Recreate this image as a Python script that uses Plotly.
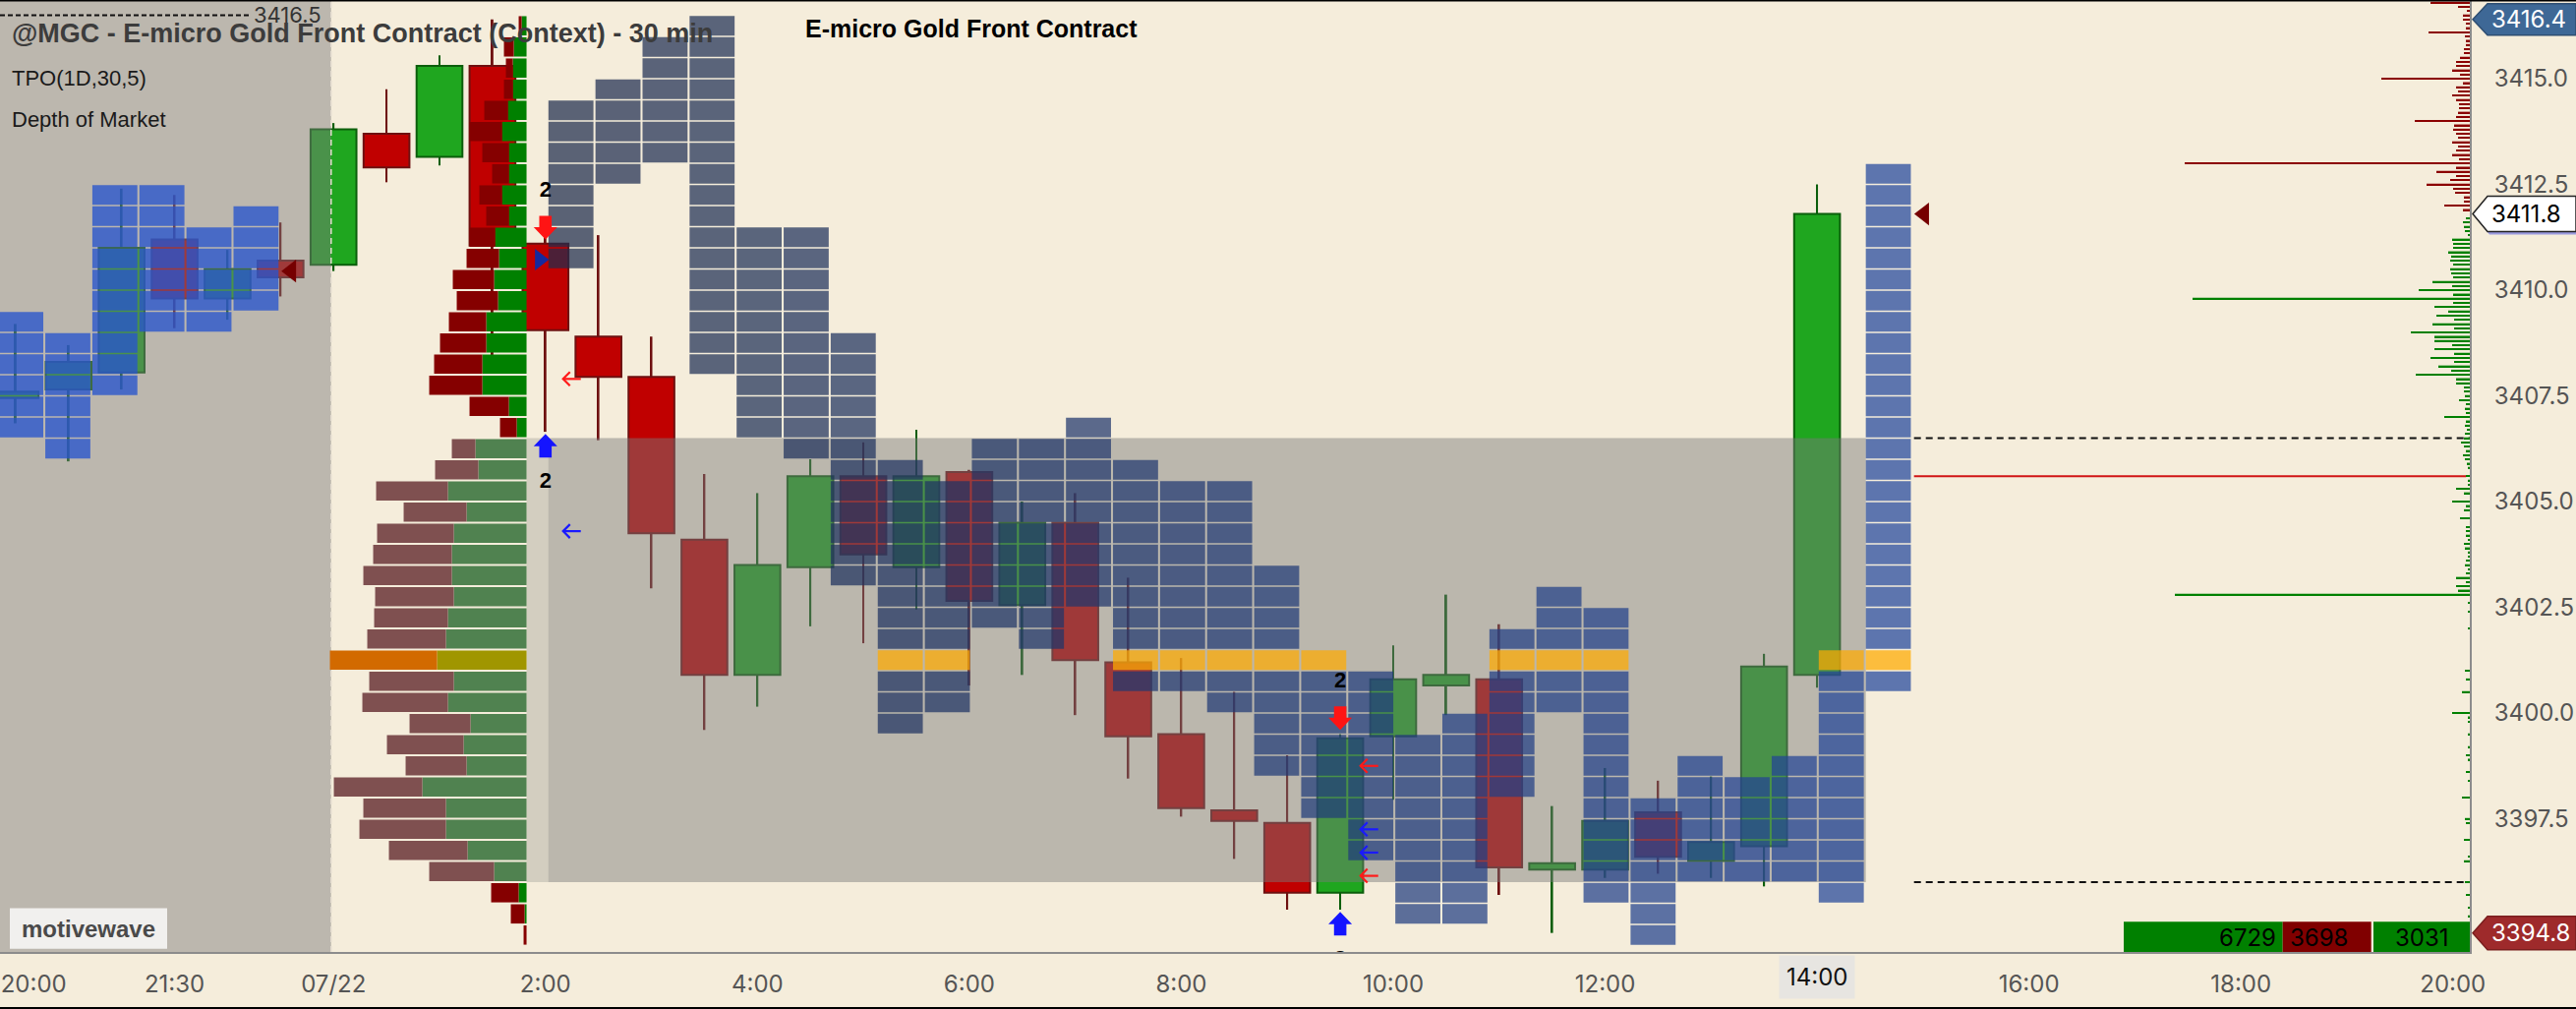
import plotly.graph_objects as go

# 30 min bars, bar 0 = the 2:00 bar of 07/22 (bars -10..-5 belong to the previous session)
bar_no = list(range(-10, 25))
opens = [3407.45, 3407.65, 3408.05, 3411.2, 3409.8, 3410.7, 3410.6, 3413.7, 3413.15, 3415.3,
         3411.1, 3408.9, 3407.95, 3404.1, 3400.9, 3403.45, 3405.6, 3403.45, 3405.7, 3402.55,
         3404.5, 3401.2, 3399.5, 3397.7, 3397.4, 3395.75, 3399.45, 3400.65, 3400.8, 3396.3,
         3396.3, 3397.65, 3396.5, 3396.85, 3400.9]
highs = [3409.2, 3408.7, 3412.4, 3412.25, 3410.95, 3411.6, 3413.95, 3414.75, 3415.55, 3416.4,
         3411.3, 3411.3, 3408.9, 3405.65, 3405.2, 3406.0, 3406.4, 3406.7, 3405.75, 3405.0,
         3405.2, 3403.2, 3401.3, 3400.5, 3399.0, 3399.5, 3401.6, 3402.8, 3402.1, 3397.8,
         3398.7, 3398.4, 3398.5, 3401.4, 3412.5]
lows = [3406.85, 3405.95, 3407.65, 3409.1, 3409.3, 3409.85, 3410.45, 3412.55, 3412.95, 3408.1,
        3406.65, 3406.45, 3402.95, 3399.6, 3400.15, 3402.05, 3401.65, 3402.45, 3400.65, 3400.9,
        3399.95, 3398.45, 3397.55, 3396.55, 3395.35, 3395.35, 3397.95, 3399.95, 3395.7, 3394.8,
        3396.1, 3396.2, 3396.1, 3395.9, 3400.6]
closes = [3407.6, 3408.3, 3411.0, 3409.8, 3410.5, 3410.3, 3413.8, 3412.9, 3415.3, 3411.05,
          3409.05, 3407.95, 3404.25, 3400.9, 3403.5, 3405.6, 3403.75, 3405.6, 3402.65, 3404.5,
          3401.25, 3399.45, 3397.75, 3397.45, 3395.75, 3399.4, 3400.8, 3400.9, 3396.35, 3396.45,
          3397.45, 3396.6, 3396.95, 3401.1, 3411.8]

# TPO columns: lowest / highest printed edge of each period (rows of 0.5)
prev_tpo_lo = [3406.5, 3406.0, 3407.5, 3409.0, 3409.0, 3409.5]
prev_tpo_hi = [3409.5, 3409.0, 3412.5, 3412.5, 3411.5, 3412.0]
tpo_lo = [3410.5, 3412.5, 3413.0, 3408.0, 3406.5, 3406.0, 3403.0, 3399.5, 3400.0, 3402.0,
          3401.5, 3402.5, 3400.5, 3400.5, 3400.0, 3398.5, 3397.5, 3396.5, 3395.0, 3395.0,
          3398.0, 3400.0, 3395.5, 3394.5, 3396.0, 3396.0, 3396.0, 3395.5, 3400.5]
tpo_hi = [3414.5, 3415.0, 3416.0, 3416.5, 3411.5, 3411.5, 3409.0, 3406.0, 3405.5, 3406.5,
          3406.5, 3407.0, 3406.0, 3405.5, 3405.5, 3403.5, 3401.5, 3401.0, 3399.5, 3400.0,
          3402.0, 3403.0, 3402.5, 3398.0, 3399.0, 3398.5, 3399.0, 3401.5, 3413.0]
tpo_poc = 3401.0
va_low = 3396.0
va_high = 3406.5

# session volume profile, rows of 0.5 listed from the top
vp_row = [3416.0, 3415.5, 3415.0, 3414.5, 3414.0, 3413.5, 3413.0, 3412.5, 3412.0, 3411.5,
          3411.0, 3410.5, 3410.0, 3409.5, 3409.0, 3408.5, 3408.0, 3407.5, 3407.0, 3406.5,
          3406.0, 3405.5, 3405.0, 3404.5, 3404.0, 3403.5, 3403.0, 3402.5, 3402.0, 3401.5,
          3401.0, 3400.5, 3400.0, 3399.5, 3399.0, 3398.5, 3398.0, 3397.5, 3397.0, 3396.5,
          3396.0, 3395.5, 3395.0, 3394.5]
vp_sell = [3, 10, 7, 9, 24, 33, 27, 17, 23, 23,
           26, 33, 42, 42, 38, 47, 49, 54, 40, 17,
           24, 44, 73, 64, 78, 80, 90, 80, 75, 80,
           109, 86, 87, 62, 78, 62, 90, 84, 88, 80,
           66, 28, 14, 3]
vp_buy = [5, 13, 14, 14, 19, 25, 18, 18, 25, 18,
          32, 28, 33, 29, 41, 41, 45, 45, 18, 10,
          52, 49, 80, 61, 74, 76, 76, 74, 80, 82,
          91, 74, 80, 57, 64, 61, 106, 82, 82, 60,
          33, 8, 2, 0]

# depth of market
ask_px = [3411.9, 3412.0, 3412.1, 3412.2, 3412.3, 3412.4, 3412.5, 3412.6, 3412.7, 3412.8,
          3412.9, 3413.0, 3413.1, 3413.2, 3413.3, 3413.4, 3413.5, 3413.6, 3413.7, 3413.8,
          3413.9, 3414.0, 3414.1, 3414.2, 3414.3, 3414.4, 3414.5, 3414.6, 3414.7, 3414.8,
          3414.9, 3415.0, 3415.1, 3415.2, 3415.3, 3415.4, 3415.5, 3415.6, 3415.7, 3415.8,
          3415.9, 3416.0, 3416.1, 3416.2, 3416.3, 3416.4, 3416.5, 3416.6, 3416.7, 3416.8]
ask_sz = [7, 26, 6, 6, 15, 17, 44, 20, 14, 34,
          14, 290, 11, 18, 14, 12, 18, 12, 14, 17,
          16, 56, 14, 12, 11, 11, 14, 18, 12, 14,
          7, 90, 10, 18, 14, 14, 10, 6, 6, 4,
          4, 5, 42, 4, 4, 7, 7, 3, 12, 40]
bid_px = [3411.7, 3411.6, 3411.5, 3411.4, 3411.3, 3411.2, 3411.1, 3411.0, 3410.9, 3410.8,
          3410.7, 3410.6, 3410.5, 3410.4, 3410.3, 3410.2, 3410.1, 3410.0, 3409.9, 3409.8,
          3409.7, 3409.6, 3409.5, 3409.4, 3409.3, 3409.2, 3409.1, 3409.0, 3408.9, 3408.8,
          3408.7, 3408.6, 3408.5, 3408.4, 3408.3, 3408.2, 3408.1, 3408.0, 3407.9, 3407.8,
          3407.7, 3407.6, 3407.5, 3407.4, 3407.3, 3407.2, 3407.1, 3407.0, 3406.9, 3406.8,
          3406.7, 3406.6, 3406.5, 3406.4, 3406.3, 3406.2, 3406.1, 3406.0, 3405.9, 3405.8,
          3405.6, 3405.5, 3405.4, 3405.3, 3405.2, 3405.0, 3404.9, 3404.8, 3404.6, 3404.4,
          3404.3, 3404.2, 3404.1, 3404.0, 3403.9, 3403.8, 3403.7, 3403.6, 3403.5, 3403.4,
          3403.3, 3403.2, 3403.1, 3403.0, 3402.9, 3402.8, 3402.6, 3402.4, 3402.0, 3401.0,
          3400.8, 3400.5, 3400.0, 3399.9, 3399.8, 3399.5, 3399.2, 3399.0, 3398.9, 3398.6,
          3398.4, 3398.0, 3397.5, 3397.4, 3397.0, 3396.6, 3396.5, 3396.0, 3395.7, 3395.4,
          3395.2]
bid_sz = [4, 7, 6, 5, 2, 18, 17, 17, 22, 19,
          20, 17, 20, 19, 17, 38, 18, 52, 17, 282,
          17, 36, 22, 34, 16, 38, 16, 60, 36, 36,
          18, 36, 16, 40, 16, 32, 19, 55, 14, 14,
          6, 6, 5, 11, 4, 5, 4, 26, 4, 5,
          3, 5, 6, 9, 6, 4, 7, 5, 3, 2,
          4, 2, 2, 14, 6, 18, 4, 6, 10, 4,
          4, 4, 2, 6, 5, 2, 2, 4, 5, 2,
          4, 14, 4, 14, 12, 300, 2, 2, 2, 5,
          4, 8, 18, 2, 2, 2, 2, 4, 2, 4,
          2, 8, 5, 4, 6, 2, 6, 5, 4, 2,
          2]

# signals
sig_bar = [0, 15]
sig_sell_tip = [3411.2, 3399.6]
sig_buy_tip = [3406.6, 3395.3]
sig_count = ["2", "2"]

flow_x = [0.5, 0.5, 15.55, 15.55, 15.55, 15.55]
flow_y = [3407.9, 3404.3, 3398.75, 3397.25, 3396.7, 3396.15]
flow_side = ["sell", "buy", "sell", "buy", "buy", "sell"]

open_mark_x = [-0.11]
open_mark_y = [3410.72]
close_mark_x = [-4.8, 26.02]
close_mark_y = [3410.45, 3411.8]

prior_high = 3416.5
prior_high_end = -5.6
ref_line = 3405.6
session_high = 3416.4
last_price = 3411.8
session_low = 3394.8
vol_total, vol_sell, vol_buy = 6729, 3698, 3031

x_tickvals = [-9.66, -7, -4, 0, 4, 8, 12, 16, 20, 24, 28, 32, 36]
x_ticktext = ["20:00", "21:30", "07/22", "2:00", "4:00", "6:00", "8:00", "10:00",
              "12:00", "14:00", "16:00", "18:00", "20:00"]
current_tick = "14:00"
y_tickvals = [3397.5, 3400.0, 3402.5, 3405.0, 3407.5, 3410.0, 3412.5, 3415.0]

# ---------------- layout / style ----------------
W, H = 2620, 1026
ML, MR, MT, MB = 0, 108, 0, 58
PW, PH = W - ML - MR, H - MT - MB
X_RANGE = [-10.295, 36.32]
Y_RANGE = [3394.35, 3416.86]
DXP = (X_RANGE[1] - X_RANGE[0]) / PW
DYP = (Y_RANGE[1] - Y_RANGE[0]) / PH

BG = "#F5EDDB"
UP_FILL, UP_EDGE = "#1FA61F", "#0B5E0B"
DN_FILL, DN_EDGE = "#C00000", "#6E1010"
BODY_W, WICK_W = 0.865, 0.035
ROW, ROW_GAP = 0.5, 0.035
TPO_PITCH, TPO_W = 0.888, 0.85
TPO_X0 = 0.056
PREV_TPO_X0 = -10.328
SESSION_X = -4.045
VP_ANCHOR = -0.357
SHADE = "rgba(123,123,123,0.27)"
NUM_FONT = "Inter"
TXT_FONT = "Liberation Sans"


def px(xp):
    return (xp - ML) / PW


def py(yp):
    return 1 - (yp - MT) / PH


def rects(boxes):
    xs, ys = [], []
    for x0, x1, y0, y1 in boxes:
        xs += [x0, x1, x1, x0, x0, None]
        ys += [y0, y0, y1, y1, y0, None]
    return xs, ys


def fill_trace(boxes, color):
    xs, ys = rects(boxes)
    return go.Scatter(x=xs, y=ys, mode="none", fill="toself", fillcolor=color,
                      hoverinfo="skip")


def tpo_color(c, n):
    t = c / (n - 1)
    a, b = (30, 44, 77), (34, 70, 156)
    r, g, bl = [round(a[i] + (b[i] - a[i]) * t) for i in range(3)]
    return f"rgba({r},{g},{bl},0.72)"


def arrow_poly(x, tip, down):
    # thick signal arrow, sizes in pixels around the tip
    s = 1 if down else -1
    pts = [(0, 0), (12, 12.5), (6.3, 12.5), (6.3, 24), (-6.3, 24), (-6.3, 12.5), (-12, 12.5)]
    return ([x + dx * DXP for dx, dy in pts] + [x], [tip + s * dy * DYP for dx, dy in pts] + [tip])


def thin_arrows(xs_c, ys_c):
    # left pointing line arrows, sizes in pixels
    xs, ys = [], []
    for x, y in zip(xs_c, ys_c):
        tip, tail = x - 9 * DXP, x + 9 * DXP
        xs += [tail, tip, None, tip + 7 * DXP, tip, tip + 7 * DXP, None]
        ys += [y, y, None, y + 7 * DYP, y, y - 7 * DYP, None]
    return xs, ys


fig = go.Figure()

# candles: wicks then bodies
up = [c >= o for o, c in zip(opens, closes)]
for is_up, edge in ((True, UP_EDGE), (False, DN_EDGE)):
    ix = [i for i, u in enumerate(up) if u == is_up]
    fig.add_trace(go.Bar(x=[bar_no[i] for i in ix], y=[highs[i] - lows[i] for i in ix],
                         base=[lows[i] for i in ix], width=WICK_W,
                         marker=dict(color=edge, line=dict(width=0)), hoverinfo="skip"))
for is_up, fill, edge in ((True, UP_FILL, UP_EDGE), (False, DN_FILL, DN_EDGE)):
    ix = [i for i, u in enumerate(up) if u == is_up]
    fig.add_trace(go.Bar(x=[bar_no[i] for i in ix],
                         y=[max(abs(closes[i] - opens[i]), 0.03) for i in ix],
                         base=[min(opens[i], closes[i]) for i in ix], width=BODY_W,
                         marker=dict(color=fill, line=dict(color=edge, width=2)),
                         hoverinfo="skip"))

# shading: previous session and value area
va_end = TPO_X0 + (len(tpo_lo) - 1) * TPO_PITCH
fig.add_trace(fill_trace([(X_RANGE[0] - 1, SESSION_X, Y_RANGE[0] - 1, Y_RANGE[1] + 1)],
                         "rgba(123,123,123,0.47)"))
fig.add_trace(fill_trace([(VP_ANCHOR, va_end, va_low, va_high)], SHADE))
fig.add_trace(fill_trace([(TPO_X0, va_end, va_low, va_high)], SHADE))

# previous session TPO
boxes = []
for j, (lo, hi) in enumerate(zip(prev_tpo_lo, prev_tpo_hi)):
    x0 = PREV_TPO_X0 + j * TPO_PITCH
    for r in range(round((hi - lo) / ROW)):
        p = lo + r * ROW
        boxes.append((x0, x0 + TPO_W, p + ROW_GAP / 2, p + ROW - ROW_GAP / 2))
fig.add_trace(fill_trace(boxes, "rgba(40,85,205,0.78)"))

# current session TPO
poc_boxes = []
for c, (lo, hi) in enumerate(zip(tpo_lo, tpo_hi)):
    x0 = TPO_X0 + c * TPO_PITCH
    boxes = []
    for r in range(round((hi - lo) / ROW)):
        p = lo + r * ROW
        box = (x0, x0 + TPO_W, p + ROW_GAP / 2, p + ROW - ROW_GAP / 2)
        (poc_boxes if abs(p - tpo_poc) < 1e-6 else boxes).append(box)
    fig.add_trace(fill_trace(boxes, tpo_color(c, len(tpo_lo))))
fig.add_trace(fill_trace(poc_boxes, "rgba(255,170,0,0.72)"))

# session divider and reference lines
fig.add_trace(go.Scatter(x=[SESSION_X, SESSION_X], y=Y_RANGE, mode="lines",
                         line=dict(color="#E4DDD0", width=1.5, dash="6px,4px"), hoverinfo="skip"))
fig.add_trace(go.Scatter(x=[X_RANGE[0], prior_high_end], y=[prior_high, prior_high], mode="lines",
                         line=dict(color="#111", width=2, dash="5px,3px"), hoverinfo="skip"))
line_x0 = va_end + TPO_W + 0.06
for lvl in (va_high, va_low):
    fig.add_trace(go.Scatter(x=[line_x0, X_RANGE[1]], y=[lvl, lvl], mode="lines",
                             line=dict(color="#111", width=2, dash="7px,5px"), hoverinfo="skip"))
fig.add_trace(go.Scatter(x=[line_x0, X_RANGE[1] - 0.07], y=[ref_line, ref_line], mode="lines",
                         line=dict(color="#D01515", width=2), hoverinfo="skip"))

# signal arrows
for b, tip in zip(sig_bar, sig_sell_tip):
    xs, ys = arrow_poly(b, tip, True)
    fig.add_trace(go.Scatter(x=xs, y=ys, mode="none", fill="toself", fillcolor="#FF1414",
                             hoverinfo="skip"))
for b, tip in zip(sig_bar, sig_buy_tip):
    xs, ys = arrow_poly(b, tip, False)
    fig.add_trace(go.Scatter(x=xs, y=ys, mode="none", fill="toself", fillcolor="#1414FF",
                             hoverinfo="skip"))
lab_off = 49 * DYP
fig.add_trace(go.Scatter(x=sig_bar + sig_bar,
                         y=[t + lab_off for t in sig_sell_tip] + [t - lab_off for t in sig_buy_tip],
                         mode="text", text=sig_count + sig_count,
                         textfont=dict(family=TXT_FONT, size=22, color="#000", weight="bold"),
                         hoverinfo="skip"))
for side, col in (("sell", "#FF1A1A"), ("buy", "#1A1AFF")):
    ix = [i for i, s in enumerate(flow_side) if s == side]
    xs, ys = thin_arrows([flow_x[i] for i in ix], [flow_y[i] for i in ix])
    fig.add_trace(go.Scatter(x=xs, y=ys, mode="lines", line=dict(color=col, width=2.2),
                             hoverinfo="skip"))
fig.add_trace(go.Scatter(x=open_mark_x, y=open_mark_y, mode="markers",
                         marker=dict(symbol="triangle-right", size=19, color="#15299E"),
                         hoverinfo="skip"))
fig.add_trace(go.Scatter(x=close_mark_x, y=close_mark_y, mode="markers",
                         marker=dict(symbol="triangle-left", size=20, color="#760000"),
                         hoverinfo="skip"))

# volume profile (grows left from its anchor)
vp_y = [p + ROW / 2 for p in vp_row]


def vp_colors(kind):
    out = []
    for p in vp_row:
        if abs(p - tpo_poc) < 1e-6:
            out.append("#D26A00" if kind == "sell" else "#A09600")
        elif va_low - 1e-6 <= p < va_high - 1e-6:
            out.append("#7F5050" if kind == "sell" else "#508250")
        else:
            out.append("#850000" if kind == "sell" else "#008000")
    return out


fig.add_trace(go.Bar(x=vp_buy, y=vp_y, base=[0] * len(vp_buy), orientation="h", width=ROW - 0.045,
                     marker=dict(color=vp_colors("buy"), line=dict(width=0)),
                     xaxis="x3", yaxis="y", hoverinfo="skip"))
fig.add_trace(go.Bar(x=vp_sell, y=vp_y, base=vp_buy, orientation="h", width=ROW - 0.045,
                     marker=dict(color=vp_colors("sell"), line=dict(width=0)),
                     xaxis="x3", yaxis="y", hoverinfo="skip"))

# depth of market (grows left from the price axis)
fig.add_trace(go.Bar(x=ask_sz, y=ask_px, base=[0] * len(ask_sz), orientation="h", width=0.035,
                     marker=dict(color="#8B0000", line=dict(width=0)),
                     xaxis="x2", yaxis="y", hoverinfo="skip"))
fig.add_trace(go.Bar(x=bid_sz, y=bid_px, base=[0] * len(bid_sz), orientation="h", width=0.035,
                     marker=dict(color="#008000", line=dict(width=0)),
                     xaxis="x2", yaxis="y", hoverinfo="skip"))

vp_anchor_px = (VP_ANCHOR - X_RANGE[0]) / DXP

shapes, annos = [], []


def tag(price, fill, edge, text, tcolor, half=16):
    path = f"M 3,0 L 18,{half} L 108,{half} L 108,{-half} L 18,{-half} Z"
    shapes.append(dict(type="path", xref="paper", yref="y", xsizemode="pixel", ysizemode="pixel",
                       xanchor=1, yanchor=price, path=path, fillcolor=fill,
                       line=dict(color=edge, width=1.5), layer="above"))
    annos.append(dict(xref="paper", yref="y", x=1, y=price, xanchor="left", yanchor="middle",
                      xshift=20, text=text, showarrow=False,
                      font=dict(family=NUM_FONT, size=24, color=tcolor)))


tag(session_high, "#3E6896", "#2E4E72", f"{session_high:.1f}", "#FFFFFF")
shapes.append(dict(type="path", xref="paper", yref="y", xsizemode="pixel", ysizemode="pixel",
                   xanchor=1, yanchor=last_price, path="M 5,-3 L 20,-21 L 110,-21 L 110,14 L 20,14 Z",
                   fillcolor="#9A9AE0", line=dict(width=0), layer="above"))
tag(last_price, "#FFFFFF", "#222222", f"{last_price:.1f}", "#000000", half=18)
tag(session_low, "#9E2A2B", "#7A1E1E", f"{session_low:.1f}", "#FFFFFF", half=17)

# volume summary boxes (bottom right)
for x0, x1, col in ((2160, 2321.7, "#008000"), (2321.7, 2411.7, "#800000"), (2414, 2512, "#008000")):
    shapes.append(dict(type="rect", xref="paper", yref="paper", x0=px(x0), x1=px(x1),
                       y0=py(968), y1=py(937.3), fillcolor=col, line=dict(width=0), layer="above"))
for xp, anchor, val in ((2317, "right", vol_total), (2327, "left", vol_sell), (2463, "center", vol_buy)):
    annos.append(dict(xref="paper", yref="paper", x=px(xp), y=py(953), xanchor=anchor,
                      yanchor="middle", text=str(val), showarrow=False,
                      font=dict(family=NUM_FONT, size=24, color="#000")))

# badge
shapes.append(dict(type="rect", xref="paper", yref="paper", x0=px(10), x1=px(170),
                   y0=py(964.7), y1=py(923.5), fillcolor="#F1F0EE", line=dict(width=0), layer="above"))
annos.append(dict(xref="paper", yref="paper", x=px(90), y=py(944), xanchor="center", yanchor="middle",
                  text="<b>motivewave</b>", showarrow=False,
                  font=dict(family=TXT_FONT, size=24, color="#4A4A4A")))

# frame
shapes.append(dict(type="line", xref="paper", yref="paper", x0=px(0), x1=px(W), y0=py(0), y1=py(0),
                   line=dict(color="#000", width=3), layer="above"))
shapes.append(dict(type="line", xref="paper", yref="paper", x0=px(0), x1=px(W), y0=py(H - 1),
                   y1=py(H - 1), line=dict(color="#000", width=2), layer="above"))

# texts
annos += [
    dict(xref="paper", yref="paper", x=px(10), y=py(34), xanchor="left", yanchor="middle",
         text="<b>@MGC - E-micro Gold Front Contract (Context) - 30 min</b>", showarrow=False,
         font=dict(family=TXT_FONT, size=27, color="#3C3C3C")),
    dict(xref="paper", yref="paper", x=px(10), y=py(80), xanchor="left", yanchor="middle",
         text="TPO(1D,30,5)", showarrow=False, font=dict(family=TXT_FONT, size=22, color="#1A1A1A")),
    dict(xref="paper", yref="paper", x=px(10), y=py(122), xanchor="left", yanchor="middle",
         text="Depth of Market", showarrow=False, font=dict(family=TXT_FONT, size=22, color="#1A1A1A")),
    dict(xref="paper", yref="paper", x=px(817), y=py(29), xanchor="left", yanchor="middle",
         text="<b>E-micro Gold Front Contract</b>", showarrow=False,
         font=dict(family=TXT_FONT, size=25, color="#000")),
    dict(xref="x", yref="y", x=prior_high_end, y=prior_high, xanchor="left", yanchor="middle",
         xshift=3, text=f"{prior_high:.1f}", showarrow=False,
         font=dict(family=NUM_FONT, size=22, color="#333")),
    dict(xref="x", yref="paper", x=x_tickvals[x_ticktext.index(current_tick)], y=0,
         yanchor="middle", yshift=-25, text=current_tick, showarrow=False, bgcolor="#E7E5E1",
         borderpad=7, font=dict(family=NUM_FONT, size=24, color="#111")),
]

fig.update_layout(
    width=W, height=H, margin=dict(l=ML, r=MR, t=MT, b=MB, pad=0),
    paper_bgcolor=BG, plot_bgcolor=BG, showlegend=False, barmode="overlay", hovermode=False,
    font=dict(family=NUM_FONT, size=24, color="#555"),
    xaxis=dict(range=X_RANGE, tickvals=x_tickvals,
               ticktext=["" if t == current_tick else t for t in x_ticktext],
               showgrid=False, zeroline=False, showline=True, linecolor="#8C8C8C", linewidth=2,
               ticks="", ticklabelstandoff=10, tickfont=dict(family=NUM_FONT, size=24, color="#555")),
    yaxis=dict(range=Y_RANGE, side="right", tickvals=y_tickvals, tickformat=".1f",
               showgrid=False, zeroline=False, showline=True, linecolor="#8C8C8C", linewidth=2,
               ticks="", ticklabelstandoff=18, tickfont=dict(family=NUM_FONT, size=24, color="#555")),
    xaxis2=dict(overlaying="x", anchor="y", range=[PW, 0], visible=False),
    xaxis3=dict(overlaying="x", anchor="y", range=[vp_anchor_px, vp_anchor_px - PW], visible=False),
    shapes=shapes, annotations=annos,
)

fig.write_html("out.html", config={"displayModeBar": False},
               post_script="document.body.style.margin='0';document.body.style.overflow='hidden';")
